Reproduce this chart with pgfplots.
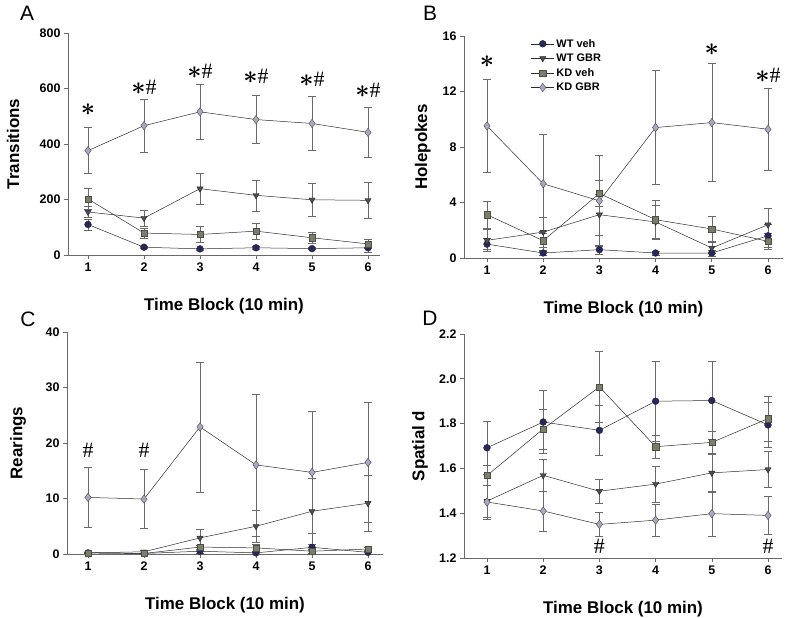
\documentclass[border=0pt]{standalone}
\usepackage{pgfplots}
\pgfplotsset{compat=1.18}
\usepackage{fontspec}
\setmainfont{Liberation Sans}
\newfontfamily\hashfont{Liberation Serif}

\definecolor{cwtveh}{RGB}{38,38,98}
\definecolor{cwtgbr}{RGB}{78,78,88}
\definecolor{ckdveh}{RGB}{122,128,102}
\definecolor{ckdgbr}{RGB}{168,168,196}
\definecolor{linegray}{RGB}{45,45,45}
\definecolor{errgray}{RGB}{105,105,105}

\newcommand{\ST}{{\fontsize{31}{31}\selectfont\boldmath$\ast$}}
\newcommand{\HS}{{\hashfont\fontsize{22}{22}\selectfont\#}}
\newcommand{\labfont}{\bfseries\fontsize{17}{17}\selectfont}

\pgfplotsset{
  panel/.style={
    scale only axis, clip=false,
    axis lines*=left,
    axis line style={errgray, line width=0.6bp},
    tick style={errgray, line width=0.6bp},
    tick align=outside,
    major tick length=4bp,
    xtick={1,2,3,4,5,6},
    /pgf/number format/assume math mode=true,
    tick label style={font=\bfseries\fontsize{12.5}{12.5}\selectfont},
    xlabel={Time Block (10 min)},
    every axis x label/.style={at={(axis description cs:0.5,-0.23)}, anchor=center, font=\labfont},
  },
  ylab/.style={every axis y label/.style={at={(axis description cs:#1,0.5)}, rotate=90, anchor=center, font=\labfont}},
  ser/.style={line width=0.5bp, color=linegray,
    error bars/y dir=both, error bars/y explicit,
    error bars/error bar style={errgray, line width=0.5bp},
    error bars/error mark options={rotate=90, errgray, mark size=4bp, line width=0.5bp}},
  wtveh/.style={ser, mark=*, mark size=3.4bp, mark options={fill=cwtveh, draw=black!85, line width=0.4bp}},
  wtgbr/.style={ser, mark=triangle*, mark size=3.6bp, mark options={rotate=180, fill=cwtgbr, draw=black!85, line width=0.4bp}},
  kdveh/.style={ser, mark=square*, mark size=3.1bp, mark options={fill=ckdveh, draw=black!70, line width=0.4bp}},
  kdgbr/.style={ser, mark=diamond*, mark size=4.2bp, mark options={fill=ckdgbr, draw=black!70, line width=0.4bp}},
}

\begin{document}
\begin{tikzpicture}
\path[use as bounding box] (0bp,0bp) rectangle (790bp,618bp);

% A
\begin{axis}[panel, at={(68bp,363bp)}, anchor=south west,
  width=312bp, height=222bp, xmin=0.643, xmax=6.214,
  ymin=0, ymax=800, ytick={0,200,400,600,800},
  ylabel={Transitions}, ylab=-0.176]
\addplot[wtveh] coordinates {(1,110) +- (0,20) (2,28) +- (0,5) (3,22) +- (0,4) (4,26) +- (0,5) (5,23) +- (0,4) (6,26) +- (0,15)};
\addplot[wtgbr] coordinates {(1,155) +- (0,20) (2,133) +- (0,28) (3,239) +- (0,55) (4,215) +- (0,56) (5,199) +- (0,61) (6,197) +- (0,66)};
\addplot[kdveh] coordinates {(1,202) +- (0,38) (2,79) +- (0,17) (3,74) +- (0,29) (4,86) +- (0,29) (5,62) +- (0,19) (6,40) +- (0,15)};
\addplot[kdgbr] coordinates {(1,376) +- (0,83) (2,466) +- (0,96) (3,516) +- (0,99) (4,488) +- (0,86) (5,474) +- (0,98) (6,442) +- (0,91)};
\node at (axis cs:1,524) {\ST};
\node at (axis cs:2,605) {\ST\HS};
\node at (axis cs:3,662) {\ST\HS};
\node at (axis cs:4,644) {\ST\HS};
\node at (axis cs:5,632) {\ST\HS};
\node at (axis cs:6,593) {\ST\HS};
\end{axis}

% B
\begin{axis}[panel, at={(464bp,360bp)}, anchor=south west,
  width=319bp, height=222bp, xmin=0.591, xmax=6.267,
  ymin=0, ymax=16, ytick={0,4,8,12,16},
  ylabel={Holepokes}, ylab=-0.129,
  legend style={at={(0.2,1.005)}, anchor=north west, draw=none, fill=none,
    font=\bfseries\fontsize{11}{11}\selectfont, row sep=1.3bp},
  legend cell align=left,
  legend image code/.code={\draw[mark repeat=2,mark phase=2,#1] plot coordinates {(0bp,0bp) (11.5bp,0bp) (23bp,0bp)};}]
\addplot[wtveh] coordinates {(1,1.0) +- (0,0.4) (2,0.36) +- (0,0.15) (3,0.6) +- (0,0.35) (4,0.36) +- (0,0.15) (5,0.36) +- (0,0.2) (6,1.6) +- (0,0.8)};
\addplot[wtgbr] coordinates {(1,1.27) +- (0,0.8) (2,1.87) +- (0,1.1) (3,3.12) +- (0,1.5) (4,2.6) +- (0,1.2) (5,0.72) +- (0,0.4) (6,2.4) +- (0,1.2)};
\addplot[kdveh] coordinates {(1,3.12) +- (0,1.0) (2,1.25) +- (0,0.7) (3,4.65) +- (0,0.95) (4,2.76) +- (0,1.4) (5,2.09) +- (0,0.9) (6,1.2) +- (0,0.6)};
\addplot[kdgbr] coordinates {(1,9.52) +- (0,3.36) (2,5.35) +- (0,3.6) (3,4.12) +- (0,3.3) (4,9.4) +- (0,4.1) (5,9.76) +- (0,4.25) (6,9.28) +- (0,2.95)};
\legend{WT veh, WT GBR, KD veh, KD GBR}
\node at (axis cs:1,14.15) {\ST};
\node at (axis cs:5,15.0) {\ST};
\node at (axis cs:6,13.2) {\ST\HS};
\end{axis}

% C
\begin{axis}[panel, at={(67bp,64bp)}, anchor=south west,
  width=316bp, height=222bp, xmin=0.625, xmax=6.268,
  ymin=0, ymax=40, ytick={0,10,20,30,40},
  ylabel={Rearings}, ylab=-0.155]
\addplot[wtveh] coordinates {(1,0.2) +- (0,0.1) (2,0.1) +- (0,0.1) (3,0.5) +- (0,0.3) (4,0.2) +- (0,0.2) (5,1.2) +- (0,0.5) (6,0.3) +- (0,0.3)};
\addplot[wtgbr] coordinates {(1,0.2) +- (0,0.1) (2,0.4) +- (0,0.2) (3,2.9) +- (0,1.6) (4,5.0) +- (0,2.9) (5,7.7) +- (0,6.0) (6,9.15) +- (0,5.0)};
\addplot[kdveh] coordinates {(1,0.2) +- (0,0.1) (2,0.1) +- (0,0.1) (3,1.25) +- (0,0.4) (4,1.1) +- (0,0.6) (5,0.5) +- (0,0.3) (6,0.9) +- (0,0.4)};
\addplot[kdgbr] coordinates {(1,10.2) +- (0,5.4) (2,9.9) +- (0,5.3) (3,22.9) +- (0,11.7) (4,16.05) +- (0,12.8) (5,14.7) +- (0,11.0) (6,16.5) +- (0,10.8)};
\node at (axis cs:1,18.7) {\HS};
\node at (axis cs:2,18.7) {\HS};
\end{axis}

% D
\begin{axis}[panel, at={(464bp,60bp)}, anchor=south west,
  width=318bp, height=224bp, xmin=0.591, xmax=6.249,
  ymin=1.2, ymax=2.2, ytick={1.2,1.4,1.6,1.8,2.0,2.2},
  yticklabel style={/pgf/number format/.cd, fixed, fixed zerofill, precision=1},
  ylabel={Spatial d}, ylab=-0.138]
\addplot[wtveh] coordinates {(1,1.692) +- (0,0.12) (2,1.807) +- (0,0.14) (3,1.77) +- (0,0.11) (4,1.9) +- (0,0.18) (5,1.903) +- (0,0.175) (6,1.794) +- (0,0.1)};
\addplot[wtgbr] coordinates {(1,1.454) +- (0,0.07) (2,1.569) +- (0,0.07) (3,1.498) +- (0,0.055) (4,1.53) +- (0,0.08) (5,1.58) +- (0,0.085) (6,1.595) +- (0,0.08)};
\addplot[kdveh] coordinates {(1,1.568) +- (0,0.045) (2,1.776) +- (0,0.09) (3,1.964) +- (0,0.16) (4,1.697) +- (0,0.05) (5,1.716) +- (0,0.05) (6,1.822) +- (0,0.1)};
\addplot[kdgbr] coordinates {(1,1.45) +- (0,0.075) (2,1.41) +- (0,0.09) (3,1.35) +- (0,0.055) (4,1.369) +- (0,0.07) (5,1.398) +- (0,0.1) (6,1.39) +- (0,0.085)};
\node at (axis cs:3,1.25) {\HS};
\node at (axis cs:6,1.25) {\HS};
\end{axis}

\node[font=\fontsize{21}{21}\selectfont] at (27bp,605bp) {A};
\node[font=\fontsize{21}{21}\selectfont] at (430bp,605bp) {B};
\node[font=\fontsize{21}{21}\selectfont] at (28bp,299bp) {C};
\node[font=\fontsize{21}{21}\selectfont] at (430bp,300bp) {D};
\end{tikzpicture}
\end{document}
